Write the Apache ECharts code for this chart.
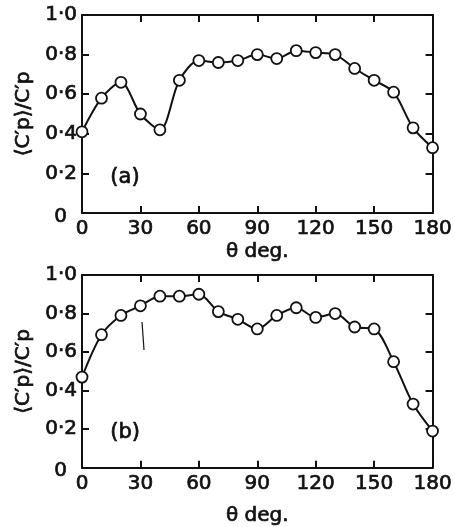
<!DOCTYPE html>
<html><head><meta charset="utf-8">
<script src="https://cdn.jsdelivr.net/npm/echarts@6/dist/echarts.min.js"></script>
<style>html,body{margin:0;padding:0;background:#fff}#c{width:455px;height:527px}</style>
</head><body><div id="c"></div>
<script>
const theta = [0,10,20,30,40,50,60,70,80,90,100,110,120,130,140,150,160,170,180];
const seriesA = [0.41,0.58,0.66,0.50,0.42,0.67,0.77,0.76,0.77,0.80,0.78,0.82,0.81,0.80,0.73,0.67,0.61,0.43,0.33];
const seriesB = [0.47,0.69,0.79,0.84,0.89,0.89,0.90,0.81,0.77,0.72,0.79,0.83,0.78,0.80,0.73,0.72,0.55,0.33,0.19];
const xTicks = [0,30,60,90,120,150,180];
const yTicks = [0,0.2,0.4,0.6,0.8,1.0];
const panelLabels = ['(a)','(b)'];
const xName = 'θ deg.';
const yName = '⟨C′p⟩/C′p';

const FONT = 'DejaVu Sans';
const ink = '#111';
const thick = {textBorderColor:ink, textBorderWidth:0.7};
function pairs(ys){ return theta.map((t,i)=>[t,ys[i]]); }
function yFmt(v){
  if (Math.abs(v) < 1e-9) return '{z|0}';
  return v.toFixed(1).replace('.', '·');
}

const grids = [
  {left:82, right:20, top:15, height:198},
  {left:82, right:20, top:275, height:196}
];
const xAxes = [], yAxes = [], series = [];
[seriesA, seriesB].forEach((data, g) => {
  const common = {
    gridIndex:g, type:'value', min:0, max:180, interval:30,
    axisLine:{show:true, onZero:false, lineStyle:{color:ink, width:2}},
    axisTick:{show:true, inside:true, length:7, lineStyle:{color:ink, width:2}},
    splitLine:{show:false}
  };
  xAxes.push(Object.assign({}, common, {
    position:'bottom',
    name:xName, nameLocation:'middle', nameGap: g===0 ? 29 : 38,
    nameTextStyle:Object.assign({fontFamily:FONT, fontSize:20, color:ink, verticalAlign:'top'}, thick),
    axisLabel:Object.assign({show:true, margin:6, fontFamily:FONT, fontSize:20, color:ink,
      formatter: v => xTicks.includes(v) ? String(v) : ''}, thick)
  }));
  xAxes.push(Object.assign({}, common, {position:'top', axisLabel:{show:false}}));
  const ycommon = {
    gridIndex:g, type:'value', min:0, max:1.0, interval:0.2,
    axisLine:{show:true, onZero:false, lineStyle:{color:ink, width:2}},
    axisTick:{show:true, inside:true, length:7, lineStyle:{color:ink, width:2}},
    splitLine:{show:false}
  };
  yAxes.push(Object.assign({}, ycommon, {
    position:'left',
    name:yName, nameLocation:'middle', nameGap:46, nameRotate:90,
    nameTextStyle:Object.assign({fontFamily:FONT, fontSize:20, color:ink}, thick),
    axisLabel:Object.assign({show:true, margin:5, fontFamily:FONT, fontSize:20, color:ink,
      formatter: v => yFmt(v),
      rich:{z:Object.assign({fontFamily:FONT, fontSize:20, color:ink, padding:[7,10,0,0]}, thick)}}, thick)
  }));
  yAxes.push(Object.assign({}, ycommon, {position:'right', axisLabel:{show:false}}));
  series.push({
    type:'line', xAxisIndex:g*2, yAxisIndex:g*2, data:pairs(data),
    smooth:0.3, symbol:'circle', symbolSize:11,
    lineStyle:{color:ink, width:2},
    itemStyle:{color:'#fff', borderColor:ink, borderWidth:1.8},
    z:3, animation:false
  });
});

const chart = echarts.init(document.getElementById('c'), null, {renderer:'canvas'});
chart.setOption({
  backgroundColor:'#fff',
  animation:false,
  grid:grids,
  xAxis:xAxes,
  yAxis:yAxes,
  series:series,
  graphic:[
    {type:'text', left:110, top:167, style:{text:panelLabels[0], font:'21px "DejaVu Sans"', fill:ink, stroke:ink, lineWidth:0.7}},
    {type:'text', left:110, top:422, style:{text:panelLabels[1], font:'21px "DejaVu Sans"', fill:ink, stroke:ink, lineWidth:0.7}},
    {type:'line', shape:{x1:142, y1:322, x2:144, y2:350}, style:{stroke:ink, lineWidth:1.2}}
  ]
});
</script></body></html>
